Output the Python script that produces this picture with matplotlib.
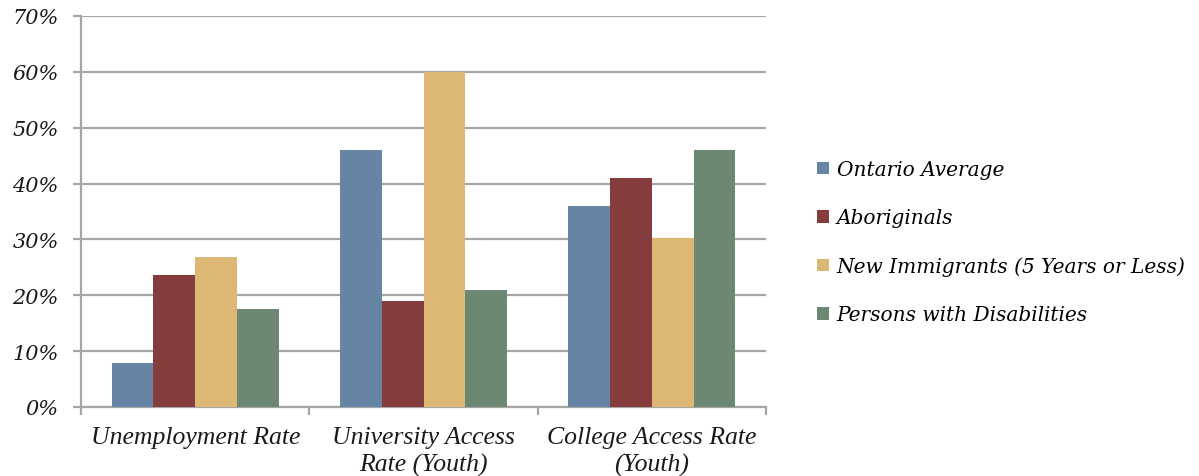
import numpy as np
import matplotlib.pyplot as plt
from matplotlib.ticker import FuncFormatter

categories = ["Unemployment Rate", "University Access\nRate (Youth)", "College Access Rate\n(Youth)"]
series_names = ["Ontario Average", "Aboriginals", "New Immigrants (5 Years or Less)", "Persons with Disabilities"]
ontario = [7.8, 46.0, 36.0]
aboriginals = [23.6, 19.0, 41.0]
immigrants = [26.8, 60.0, 30.2]
disabilities = [17.5, 21.0, 46.0]
colors = ["#6685a5", "#853c3c", "#dcb874", "#6c8872"]

values = [ontario, aboriginals, immigrants, disabilities]

fig = plt.figure(figsize=(11.99, 4.77), dpi=100)
ax = fig.add_axes([0.0676, 0.1447, 0.5713, 0.8197])

x = np.arange(len(categories))
w = 0.183
for i, (vals, name, c) in enumerate(zip(values, series_names, colors)):
    ax.bar(x + (i - 1.5) * w, vals, width=w, color=c, label=name, zorder=3,
           linewidth=0)

ax.set_xlim(-0.5, 2.5)
ax.set_ylim(0, 70)
ax.set_yticks(np.arange(0, 71, 10))
ax.yaxis.set_major_formatter(FuncFormatter(lambda v, p: f"{v:.0f}%"))
ax.grid(axis="y", color="#a6a6a6", linewidth=1.6, zorder=0)

ax.set_xticks([-0.5, 0.5, 1.5, 2.5])
ax.set_xticklabels([])
ax.set_xticks(x, minor=True)
ax.set_xticklabels(categories, minor=True, fontsize=18.5, style="italic",
                   family="Liberation Serif", color="#1a1a1a", linespacing=1.25)
ax.tick_params(axis="x", which="minor", length=0, pad=14)
ax.tick_params(axis="x", which="major", length=6, width=1.6, color="#a6a6a6")
ax.tick_params(axis="y", length=6, width=1.6, color="#a6a6a6", pad=10)
for lbl in ax.get_yticklabels():
    lbl.set_fontstyle("italic")
    lbl.set_family("DejaVu Serif")
    lbl.set_fontsize(15)
    lbl.set_color("#1a1a1a")

for s in ["top", "right"]:
    ax.spines[s].set_visible(False)
for s in ["left", "bottom"]:
    ax.spines[s].set_color("#a6a6a6")
    ax.spines[s].set_linewidth(1.6)

fig.legend(loc="center left", bbox_to_anchor=(0.666, 0.49), frameon=False,
           handlelength=0.6, handleheight=0.6, handletextpad=0.4, labelspacing=1.45,
           prop={"family": "DejaVu Serif", "style": "italic", "size": 14.5})

fig.savefig("out.png", dpi=100, facecolor="white")
